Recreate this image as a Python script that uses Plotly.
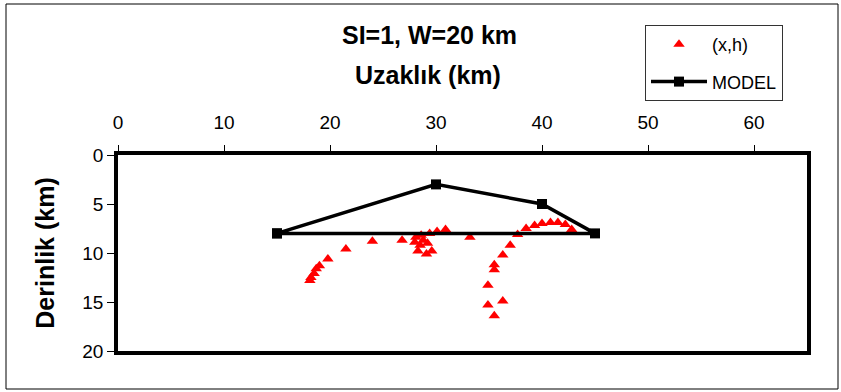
import plotly.graph_objects as go

# Observed points (x = distance km, h = depth km)
obs_x = [18.1, 18.2, 18.5, 18.7, 19.0, 19.8, 21.5, 24.0, 26.8,
         28.0, 28.1, 28.3, 28.5, 28.6, 28.8, 29.1, 29.2, 29.4, 29.6, 30.1, 30.9,
         33.2,
         34.9, 34.9, 35.5, 35.5, 35.5, 36.3, 36.3, 37.0, 37.7, 38.5, 39.3,
         40.0, 40.8, 41.5, 42.2, 42.8]
obs_h = [12.8, 12.5, 12.1, 11.6, 11.3, 10.6, 9.6, 8.8, 8.7,
         8.9, 8.4, 9.8, 9.2, 8.2, 8.7, 10.1, 9.0, 8.0, 9.8, 7.8, 7.6,
         8.4,
         13.3, 15.3, 11.2, 11.7, 16.4, 10.2, 14.9, 9.2, 8.1, 7.5, 7.2,
         7.0, 6.9, 6.9, 7.1, 7.6]

# Model polygon
model_x = [15, 30, 40, 45, 15]
model_h = [8, 3, 5, 8, 8]

x_ticks = [0, 10, 20, 30, 40, 50, 60]
y_ticks = [0, 5, 10, 15, 20]

FONT = "Liberation Sans, Arial, sans-serif"

fig = go.Figure()
fig.add_trace(go.Scatter(
    x=obs_x, y=obs_h, mode="markers", name="(x,h)",
    marker=dict(symbol="triangle-up", color="#ff0000", size=10),
    legendgroup="a",
))
fig.add_trace(go.Scatter(
    x=model_x, y=model_h, mode="lines+markers", name="MODEL",
    line=dict(color="black", width=3.5),
    marker=dict(symbol="square", color="black", size=10),
    legendgroup="b",
))

L, T, R, B = 118, 155, 807, 351
W, H = 841, 392
pw, ph = R - L, B - T

def px(xp):
    return (xp - L) / pw

def py(yp):
    return (B - yp) / ph

fig.update_layout(
    width=W, height=H,
    margin=dict(l=L, r=W - R, t=T, b=H - B),
    paper_bgcolor="white", plot_bgcolor="white",
    font=dict(family=FONT, color="black"),
    showlegend=True,
    legend=dict(
        x=px(645), y=py(25), xanchor="left", yanchor="top",
        bordercolor="#333333", borderwidth=1, bgcolor="white",
        font=dict(size=18, family=FONT),
        traceorder="grouped", tracegroupgap=11,
        itemwidth=56,
    ),
    xaxis=dict(
        side="top", range=[0, 65], tickvals=x_ticks,
        ticks="outside", ticklen=6, tickcolor="black",
        showgrid=False, zeroline=False,
        showline=True, linecolor="black", linewidth=3.5, mirror=True,
        tickfont=dict(size=19, family=FONT),
        ticklabelstandoff=9,
    ),
    yaxis=dict(
        range=[20, 0], tickvals=y_ticks,
        ticks="outside", ticklen=7, tickcolor="black",
        showgrid=False, zeroline=False,
        showline=True, linecolor="black", linewidth=3.5, mirror=True,
        tickfont=dict(size=19, family=FONT),
        title=dict(text="<b>Derinlik (km)</b>", font=dict(size=25, family=FONT), standoff=22),
    ),
    annotations=[
        dict(text="<b>SI=1, W=20 km</b>", x=px(429), y=py(35), xref="paper", yref="paper",
             showarrow=False, font=dict(size=25, family=FONT), xanchor="center", yanchor="middle"),
        dict(text="<b>Uzaklık (km)</b>", x=px(428), y=py(75), xref="paper", yref="paper",
             showarrow=False, font=dict(size=25, family=FONT), xanchor="center", yanchor="middle"),
    ],
    shapes=[
        dict(type="rect", xref="paper", yref="paper",
             x0=px(6), x1=px(838), y0=py(389), y1=py(4),
             line=dict(color="black", width=1), layer="below"),
    ],
)

fig.write_html("out.html")
